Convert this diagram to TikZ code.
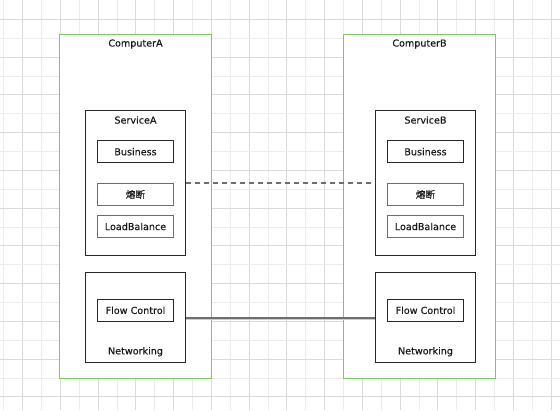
\documentclass[tikz,border=0pt]{standalone}
\usepackage{fontspec}
\setmainfont{DejaVu Sans}
\newfontfamily\lblfont{DejaVu Sans}[BoldFont={DejaVu Sans}, BoldFeatures={FakeBold=0.35}]
\newfontfamily\cjk{Noto Sans CJK SC}[BoldFont={Noto Sans CJK SC}, BoldFeatures={FakeBold=0.35}]
\usetikzlibrary{fit}
\definecolor{boxgreen}{RGB}{128,200,90}
\definecolor{skyline}{RGB}{0,140,235}
\definecolor{boxline}{RGB}{40,40,40}
\definecolor{txt}{RGB}{25,25,25}
\definecolor{gridlight}{RGB}{236,236,236}
\definecolor{griddark}{RGB}{218,218,218}
\definecolor{conn}{RGB}{110,110,110}
\tikzset{
  compbox/.style={draw=boxgreen, line width=1pt, inner sep=0pt, fill=white},
  blackbox/.style={draw=boxline, line width=1pt, inner sep=0pt},
  bluebox/.style={draw=skyline, line width=1.1pt, inner sep=0pt, minimum width=76pt, minimum height=22pt},
  lbl/.style={text=txt, font=\fontsize{9.6}{11}\selectfont\lblfont\bfseries, inner sep=0pt},
  dashconn/.style={draw=conn, line width=1.5pt, dash pattern=on 5pt off 4pt},
  solidconn/.style={draw=conn, line width=2pt, preaction={draw=gray!40, line width=1pt, transform canvas={yshift=-1.6pt}}}
}
\begin{document}
\begin{tikzpicture}[x=1pt,y=-1pt]
\useasboundingbox (0,0) rectangle (560,410);
\fill[white] (0,0) rectangle (560,410);
% grid
\foreach \k in {0,...,29}{
  \pgfmathsetmacro{\gx}{3.8+18.87*\k}
  \pgfmathtruncatemacro{\odd}{mod(\k,2)}
  \ifnum\odd=1 \draw[griddark, line width=0.8pt] (\gx,0) -- (\gx,410);
  \else \draw[gridlight, line width=0.8pt] (\gx,0) -- (\gx,410); \fi
}
\foreach \k in {1,...,21}{
  \pgfmathsetmacro{\gy}{0.5+18.87*\k}
  \pgfmathtruncatemacro{\odd}{mod(\k,2)}
  \ifnum\odd=1 \draw[griddark, line width=0.8pt] (0,\gy) -- (560,\gy);
  \else \draw[gridlight, line width=0.8pt] (0,\gy) -- (560,\gy); \fi
}
% Computer A
\node[compbox, fit={(59.5,34.5) (211.5,378)}] (compA) {};
\node[lbl] (compAt) at (135.5,44) {ComputerA};
\node[blackbox, fit={(85.5,110.5) (185.5,255)}] (servA) {};
\node[lbl] (servAt) at (135.5,120) {ServiceA};
\node[blackbox, fit={(97.5,140.7) (173.5,162.7)}] (busA) {};
\node[lbl] (busAt) at (busA.center) {Business};
\node[bluebox] (fuseA) at (135.5,194.5) {};
\node[lbl] (fuseAt) at (fuseA.center) {\cjk\bfseries 熔断};
\node[bluebox] (lbA) at (135.5,226.5) {};
\node[lbl] (lbAt) at (lbA.center) {LoadBalance};
\node[blackbox, fit={(85.5,272.7) (185.5,362.5)}] (netA) {};
\node[blackbox, fit={(97.5,299.3) (173.5,321.3)}] (flowA) {};
\node[lbl] (flowAt) at (flowA.center) {Flow Control};
\node[lbl] (netAt) at (135.5,351.7) {Networking};
% Computer B
\node[compbox, fit={(343.5,34.5) (495.5,378)}] (compB) {};
\node[lbl] (compBt) at (419.5,44) {ComputerB};
\node[blackbox, fit={(375.5,110.5) (475.5,255)}] (servB) {};
\node[lbl] (servBt) at (425.5,120) {ServiceB};
\node[blackbox, fit={(387.5,140.7) (463.5,162.7)}] (busB) {};
\node[lbl] (busBt) at (busB.center) {Business};
\node[bluebox] (fuseB) at (425.5,194.5) {};
\node[lbl] (fuseBt) at (fuseB.center) {\cjk\bfseries 熔断};
\node[bluebox] (lbB) at (425.5,226.5) {};
\node[lbl] (lbBt) at (lbB.center) {LoadBalance};
\node[blackbox, fit={(375.5,272.7) (475.5,362.5)}] (netB) {};
\node[blackbox, fit={(387.5,299.3) (463.5,321.3)}] (flowB) {};
\node[lbl] (flowBt) at (flowB.center) {Flow Control};
\node[lbl] (netBt) at (425.5,351.7) {Networking};
% connectors
\draw[dashconn] (servA.east) -- (servB.west);
\draw[solidconn] (netA.east) -- (netB.west);
\end{tikzpicture}
\end{document}
